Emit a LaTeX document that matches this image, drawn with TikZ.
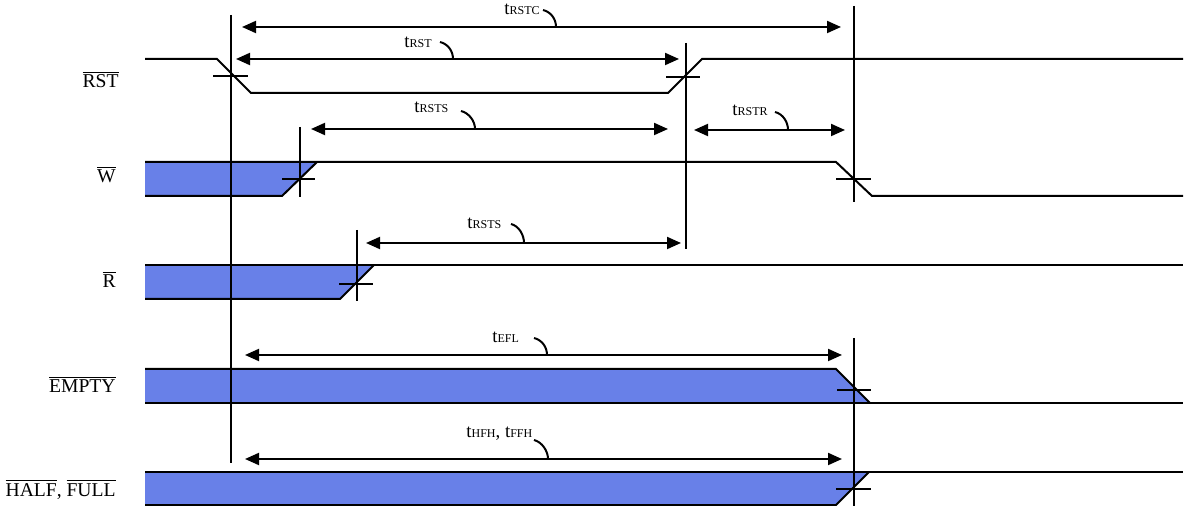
\documentclass[tikz,border=0pt]{standalone}
\usepackage{fontspec}
\setmainfont{Liberation Serif}
\usetikzlibrary{arrows.meta}
\definecolor{sigblue}{RGB}{104,128,232}
\newcommand{\tsub}[1]{{\fontsize{6}{6}\selectfont #1}}
\tikzset{
  sig/.style={line width=1pt},
  marker/.style={line width=1pt},
  timearrow/.style={line width=1pt,
    {Triangle[length=7pt,width=6pt]}-{Triangle[length=7pt,width=6pt]}},
  leader/.style={line width=1pt},
  siglabel/.style={anchor=base east,inner sep=0pt,font=\fontsize{9.8}{10}\selectfont},
  tlabel/.style={anchor=base west,inner sep=0pt,font=\fontsize{9.4}{9}\selectfont},
}
\begin{document}
\begin{tikzpicture}[x=0.5pt,y=-0.5pt]
  \useasboundingbox (0,0) rectangle (1186,506);
  % signal names
  \node[siglabel] (rst)  at (119,88)  {$\overline{\mbox{RST}}$};
  \node[siglabel] (w)    at (116,183) {$\overline{\mbox{W}}$};
  \node[siglabel] (r)    at (116,288) {$\overline{\mbox{R}}$};
  \node[siglabel] (empty) at (116,393) {$\overline{\mbox{EMPTY}}$};
  \node[siglabel] (half) at (116,496) {$\overline{\mbox{HALF}}$, $\overline{\mbox{FULL}}$};
  % blue (unknown) regions
  \fill[sigblue] (145,162) -- (317,162) -- (282,196) -- (145,196) -- cycle;
  \fill[sigblue] (145,265) -- (374,265) -- (340,299) -- (145,299) -- cycle;
  \fill[sigblue] (145,369) -- (836,369) -- (870,403) -- (145,403) -- cycle;
  \fill[sigblue] (145,472) -- (869,472) -- (836,505) -- (145,505) -- cycle;
  % waveforms
  \draw[sig] (145,59) -- (217,59) -- (251,93) -- (668,93) -- (702,59) -- (1183,59);
  \draw[sig] (145,162) -- (836,162) -- (872,196) -- (1183,196);
  \draw[sig] (145,196) -- (282,196) -- (317,162);
  \draw[sig] (145,265) -- (1183,265);
  \draw[sig] (145,299) -- (340,299) -- (374,265);
  \draw[sig] (145,369) -- (836,369) -- (870,403);
  \draw[sig] (145,403) -- (1183,403);
  \draw[sig] (145,472) -- (1183,472);
  \draw[sig] (145,505) -- (836,505) -- (869,472);
  % reference lines and crossings
  \begin{scope}[marker]
    \draw (231,15) -- (231,463);
    \draw (686,43) -- (686,249);
    \draw (854,6) -- (854,202);
    \draw (854,338) -- (854,506);
    \draw (300,127) -- (300,197);
    \draw (357,230) -- (357,301);
    \draw (213,76) -- (248,76);
    \draw (666,77) -- (700,77);
    \draw (282,179) -- (315,179);
    \draw (836,179) -- (871,179);
    \draw (339,284) -- (373,284);
    \draw (837,390) -- (871,390);
    \draw (836,489) -- (871,489);
  \end{scope}
  % timing arrows
  \draw[timearrow] (242,27) -- (841,27);
  \draw[timearrow] (236,59) -- (679,59);
  \draw[timearrow] (311,129) -- (668,129);
  \draw[timearrow] (694,130) -- (845,130);
  \draw[timearrow] (366,243) -- (681,243);
  \draw[timearrow] (245,355) -- (842,355);
  \draw[timearrow] (245,459) -- (842,459);
  % timing names with leaders
  \node[tlabel] (trstc) at (504,15) {t\tsub{RSTC}};
  \draw[leader] (543,10) .. controls (551,12) and (556,19) .. (556,27);
  \node[tlabel] (trst) at (404,48) {t\tsub{RST}};
  \draw[leader] (440,42) .. controls (448,44) and (453,51) .. (453,59);
  \node[tlabel] (trsts) at (414,113) {t\tsub{RSTS}};
  \draw[leader] (461,111) .. controls (469,113) and (475,121) .. (475,129);
  \node[tlabel] (trstr) at (732,116) {t\tsub{RSTR}};
  \draw[leader] (775,112) .. controls (783,114) and (788,122) .. (788,130);
  \node[tlabel] (trsts2) at (467,229) {t\tsub{RSTS}};
  \draw[leader] (511,224) .. controls (519,226) and (524,235) .. (524,243);
  \node[tlabel] (tefl) at (492,343) {t\tsub{EFL}};
  \draw[leader] (534,338) .. controls (542,340) and (547,347) .. (547,355);
  \node[tlabel] (thfh) at (466,438) {t\tsub{HFH}, t\tsub{FFH}};
  \draw[leader] (534,440) .. controls (542,442) and (548,451) .. (548,459);
\end{tikzpicture}
\end{document}
